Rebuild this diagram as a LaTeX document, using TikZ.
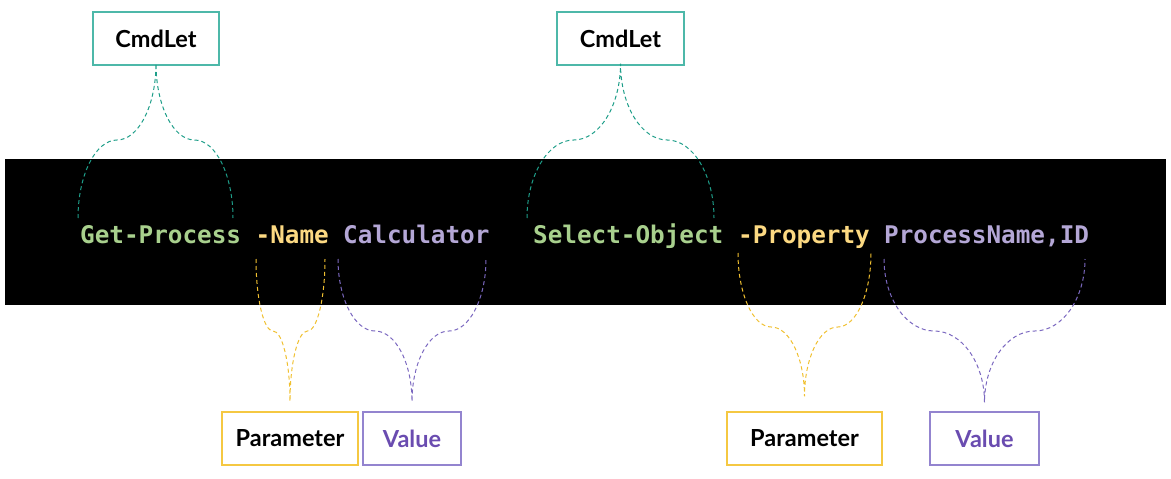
\documentclass[tikz,border=0pt]{standalone}
\usepackage{fontspec}
\setmainfont{Lato}
\newfontfamily\codefont{DejaVu Sans Mono}
\usetikzlibrary{calc}
\definecolor{tealline}{HTML}{1E9E89}
\definecolor{tealbox}{HTML}{4DB8A9}
\definecolor{yelline}{HTML}{F0C030}
\definecolor{yelbox}{HTML}{F5C842}
\definecolor{purline}{HTML}{7B68C0}
\definecolor{purbox}{HTML}{9384CF}
\definecolor{purtext}{HTML}{6A4CB0}
\definecolor{codegreen}{HTML}{A8D08D}
\definecolor{codeyellow}{HTML}{FCD982}
\definecolor{codepurple}{HTML}{B4A7D6}
\newcommand\drawcurly[5]{%
 \draw[#1] let \p1=(#2), \p2=(#3), \p3=(#4), \p4=(#5) in
 (\p1) .. controls (\x1,{\y1+0.55*(\y4-\y1)}) and ({0.5*(\x1+\x3)-0.275*(\x3-\x1)},\y4) .. ({0.5*(\x1+\x3)},\y4)
 .. controls ({0.5*(\x1+\x3)+0.275*(\x3-\x1)},\y4) and (\x3,{\y3+0.55*(\y4-\y3)}) .. (\p3)
 .. controls (\x3,{\y3+0.55*(\y4-\y3)}) and ({0.5*(\x2+\x3)-0.275*(\x2-\x3)},\y4) .. ({0.5*(\x2+\x3)},\y4)
 .. controls ({0.5*(\x2+\x3)+0.275*(\x2-\x3)},\y4) and (\x2,{\y2+0.55*(\y4-\y2)}) .. (\p2);}
\begin{document}
\begin{tikzpicture}[x=1pt,y=-1pt,
  label/.style={draw, line width=1.2pt, minimum height=53pt, inner sep=0pt, font=\fontsize{23.5}{28}\selectfont\bfseries},
  token/.style={anchor=base west, inner sep=0pt, font=\codefont\bfseries\fontsize{24.3}{28}\selectfont},
  brace/.style={dash pattern=on 4pt off 3pt, line width=1pt}]
\useasboundingbox (0,0) rectangle (1171,479);
\fill[black] (5,159) rectangle (1166,305);
% tokens
\node[token, text=codegreen] (gp) at (80,243) {Get-Process};
\node[token, text=codeyellow] (nm) at (255.5,243) {-Name};
\node[token, text=codepurple] (calc) at (343,243) {Calculator};
\node[token, text=codegreen] (so) at (533,243) {Select-Object};
\node[token, text=codeyellow] (prop) at (738,243) {-Property};
\node[token, text=codepurple] (pn) at (884,243) {ProcessName,ID};
% labels
\node[label, draw=tealbox, minimum width=126pt] (cmd1) at (156,38.5) {CmdLet};
\node[label, draw=tealbox, minimum width=127pt] (cmd2) at (620.5,38.5) {CmdLet};
\node[label, draw=yelbox, minimum width=136pt] (par1) at (290,438.5) {Parameter};
\node[label, draw=purbox, text=purtext, minimum width=98pt] (val1) at (412,438.5) {Value};
\node[label, draw=yelbox, minimum width=155pt] (par2) at (804.5,438.5) {Parameter};
\node[label, draw=purbox, text=purtext, minimum width=109pt] (val2) at (984.5,438.5) {Value};
% brace end points
\coordinate (gpL) at (78,218);  \coordinate (gpR) at (233,218);
\coordinate (soL) at (527,218); \coordinate (soR) at (714,218);
\coordinate (nmL) at (256,259); \coordinate (nmR) at (325,259);
\coordinate (caL) at (338,259); \coordinate (caR) at (486,259);
\coordinate (prL) at (738,253); \coordinate (prR) at (871,253);
\coordinate (pnL) at (884,259); \coordinate (pnR) at (1085,259);
\coordinate (ytop) at (0,140);
\coordinate (ybot) at (0,331);
\coordinate (ybot2) at (0,327);
\coordinate (t1) at ($(cmd1.south)+(0,-2)$);
\coordinate (t2) at ($(cmd2.south)+(0,-2)$);
\coordinate (t3) at ($(par1.north)+(0,-10)$);
\coordinate (t4) at ($(val1.north)+(0,-10)$);
\coordinate (t5) at ($(par2.north)+(0,-15)$);
\coordinate (t6) at ($(val2.north)+(0,-9)$);
\drawcurly{brace, tealline}{gpL}{gpR}{t1}{ytop}
\drawcurly{brace, tealline}{soL}{soR}{t2}{ytop}
\drawcurly{brace, yelline}{nmL}{nmR}{t3}{ybot}
\drawcurly{brace, purline}{caL}{caR}{t4}{ybot}
\drawcurly{brace, yelline}{prL}{prR}{t5}{ybot2}
\drawcurly{brace, purline}{pnL}{pnR}{t6}{ybot}
\end{tikzpicture}
\end{document}
